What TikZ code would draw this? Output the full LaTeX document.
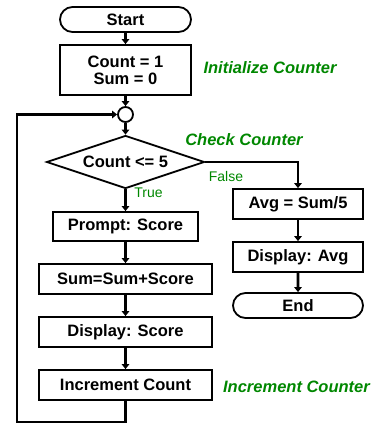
\documentclass[tikz,border=0pt]{standalone}
\usepackage{fontspec}
\setmainfont{Liberation Sans}
\usetikzlibrary{shapes.geometric,shapes.misc,arrows.meta}
\definecolor{lblgreen}{RGB}{0,135,0}
\tikzset{
  base/.style={draw=black, line width=1.8pt, inner sep=0pt, align=center,
    font=\bfseries\fontsize{16.5}{17}\selectfont},
  procbox/.style={base, rectangle, minimum height=30pt},
  terminal/.style={base, rounded rectangle, minimum height=25pt, minimum width=131pt},
  decision/.style={base, diamond, aspect=3, minimum width=158pt, minimum height=53pt},
  junction/.style={draw=black, line width=1.8pt, circle, minimum size=15pt, inner sep=0pt},
  conn/.style={line width=2.6pt, -{Triangle[length=5pt,width=7.5pt]}},
  note/.style={text=lblgreen, font=\bfseries\itshape\fontsize{16.5}{18}\selectfont},
  branch/.style={text=lblgreen, font=\fontsize{14}{16}\selectfont}
}
\begin{document}
\begin{tikzpicture}[x=1pt, y=-1pt]
\useasboundingbox (0,0) rectangle (372,424);

% main column
\node[terminal] (start) at (125.5,19.5) {Start};
\node[procbox, minimum width=131pt, minimum height=50pt] (init) at (125.5,70) {Count = 1\\Sum = 0};
\node[junction] (junc) at (125.5,114.5) {};
\node[decision] (check) at (125.5,162) {Count <= 5};
\node[procbox, minimum width=145pt, minimum height=29pt] (prompt) at (125.5,226.5) {Prompt: Score};
\node[procbox, minimum width=173pt] (sum) at (125.5,279) {Sum=Sum+Score};
\node[procbox, minimum width=173pt] (dscore) at (125.5,332) {Display: Score};
\node[procbox, minimum width=173pt] (incr) at (125.5,385) {Increment Count};

% exit column
\node[procbox, minimum width=130pt] (avg) at (298,204) {Avg = Sum/5};
\node[procbox, minimum width=130pt] (davg) at (298,257) {Display: Avg};
\node[terminal, minimum width=130pt] (end) at (298,305.5) {End};

% annotations
\node[note] (lblinit) at (270,68) {Initialize Counter};
\node[note] (lblcheck) at (244,140) {Check Counter};
\node[note] (lblincr) at (296.5,387) {Increment Counter};
\node[branch] (lbltrue) at (148.5,193) {True};
\node[branch] (lblfalse) at (226,176) {False};

% connectors
\draw[conn] (start) -- (init);
\draw[conn] (init) -- (junc);
\draw[conn] (junc) -- (check);
\draw[conn] (check.south) -- (prompt);
\draw[conn] (prompt) -- (sum);
\draw[conn] (sum) -- (dscore);
\draw[conn] (dscore) -- (incr);
\draw[conn] (check.east) -| (avg.north);
\draw[conn] (avg) -- (davg);
\draw[conn] (davg) -- (end);

% loop back to the junction
\coordinate (loopcorner) at (17,422);
\draw[conn] (incr.south) |- (loopcorner) |- (junc.west);
\end{tikzpicture}
\end{document}
